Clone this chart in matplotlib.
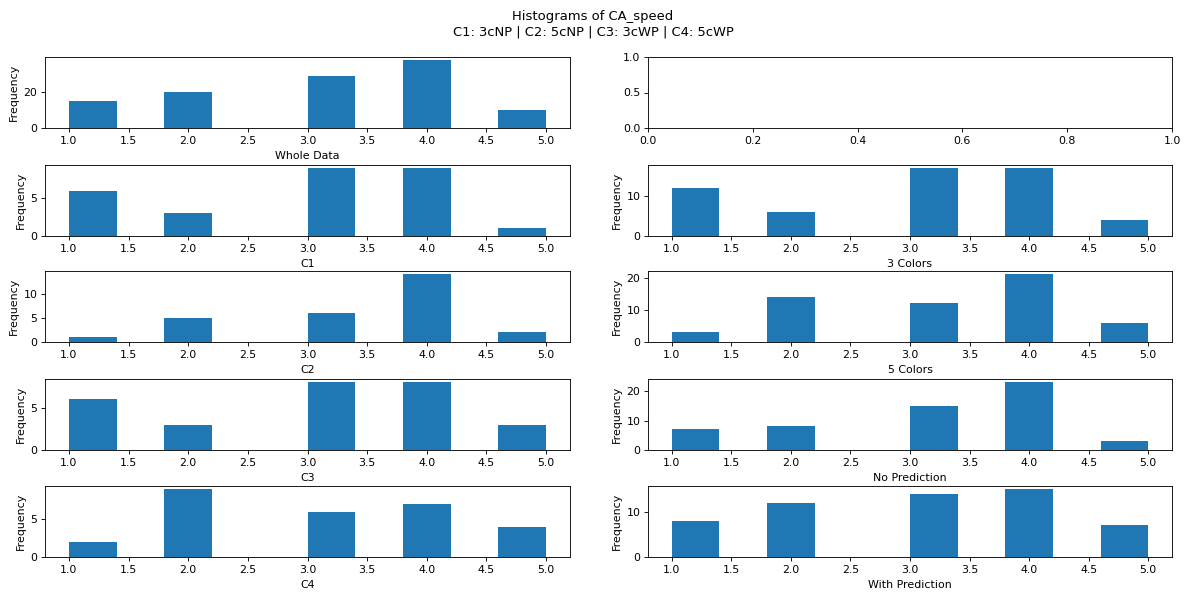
import matplotlib
matplotlib.use("Agg")
import matplotlib.pyplot as plt
import numpy as np

# speed ratings and counts per group
scores = [1, 2, 3, 4, 5]
counts_c1 = [6, 3, 9, 9, 1]
counts_c2 = [1, 5, 6, 14, 2]
counts_c3 = [6, 3, 8, 8, 3]
counts_c4 = [2, 9, 6, 7, 4]

counts_whole = list(np.add(np.add(counts_c1, counts_c2), np.add(counts_c3, counts_c4)))
counts_3c = list(np.add(counts_c1, counts_c3))
counts_5c = list(np.add(counts_c2, counts_c4))
counts_np = list(np.add(counts_c1, counts_c2))
counts_wp = list(np.add(counts_c3, counts_c4))

left_panels = [("Whole Data", counts_whole), ("C1", counts_c1), ("C2", counts_c2),
               ("C3", counts_c3), ("C4", counts_c4)]
right_panels = [None, ("3 Colors", counts_3c), ("5 Colors", counts_5c),
                ("No Prediction", counts_np), ("With Prediction", counts_wp)]

W, H = 1186, 594
dpi = W / 15
fig = plt.figure(figsize=(15, H / dpi))
fig.suptitle("Histograms of CA_speed\nC1: 3cNP | C2: 5cNP | C3: 3cWP | C4: 5cWP", y=0.983)

row_bottom_px = [128, 236, 342, 450, 557]
ax_h = 71 / H
cols = [(45, 525), (648, 524)]


def draw_hist(ax, label, counts):
    ax.hist(scores, bins=10, range=(1, 5), weights=counts, color="#1f77b4")
    ax.set_xlabel(label, labelpad=5)
    ax.set_ylabel("Frequency")


for r in range(5):
    b = 1 - row_bottom_px[r] / H
    axl = fig.add_axes([cols[0][0] / W, b, cols[0][1] / W, ax_h])
    draw_hist(axl, *left_panels[r])
    axr = fig.add_axes([cols[1][0] / W, b, cols[1][1] / W, ax_h])
    if right_panels[r] is not None:
        draw_hist(axr, *right_panels[r])

fig.savefig("out.png", dpi=dpi)
